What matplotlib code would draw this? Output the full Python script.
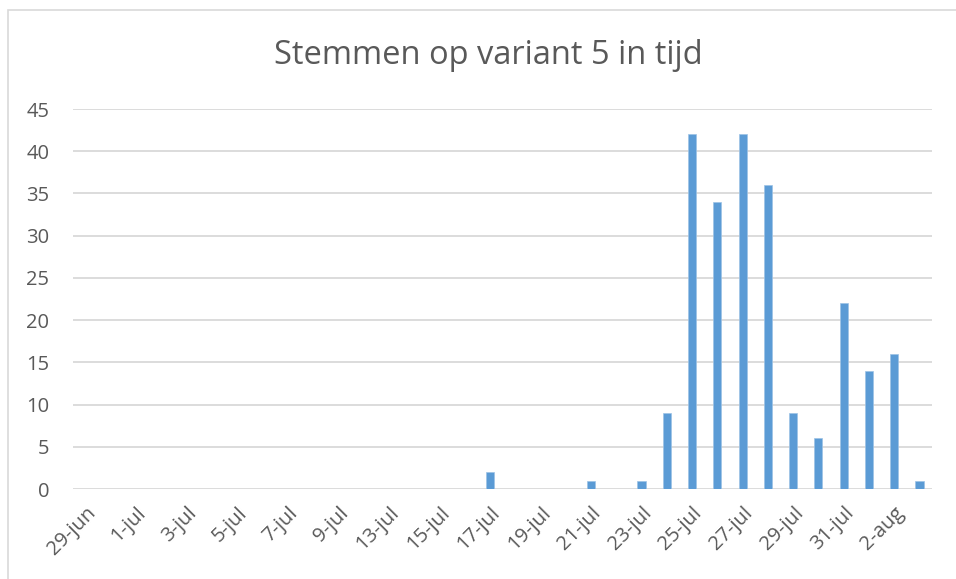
import numpy as np
import matplotlib.pyplot as plt
from matplotlib.patches import Rectangle

# data
dates = ['29-jun', '30-jun', '1-jul', '2-jul', '3-jul', '4-jul', '5-jul', '6-jul',
         '7-jul', '8-jul', '9-jul', '11-jul', '13-jul', '14-jul', '15-jul', '16-jul',
         '17-jul', '18-jul', '19-jul', '20-jul', '21-jul', '22-jul', '23-jul', '24-jul',
         '25-jul', '26-jul', '27-jul', '28-jul', '29-jul', '30-jul', '31-jul', '1-aug',
         '2-aug', '3-aug']
votes = [0, 0, 0, 0, 0, 0, 0, 0,
         0, 0, 0, 0, 0, 0, 0, 0,
         2, 0, 0, 0, 1, 0, 1, 9,
         42, 34, 42, 36, 9, 6, 22, 14,
         16, 1]

plt.rcParams['font.family'] = ['Open Sans', 'DejaVu Sans']

text_color = '#595959'
grid_color = '#D9D9D9'
bar_color = '#5B9BD5'

fig = plt.figure(figsize=(9.56, 5.79), dpi=100)
ax = fig.add_axes([0.0764, 0.1554, 0.975 - 0.0764, 0.8117 - 0.1554])

# rand van de grafiek
fig.patches.append(Rectangle((8 / 956, -0.1), 1.2, 1 - 10 / 579 + 0.1,
                             transform=fig.transFigure, fill=False,
                             edgecolor=grid_color, linewidth=1.2))

x = np.arange(len(dates))
ax.bar(x, votes, width=0.32, color=bar_color, edgecolor='#9DC3E6', linewidth=0.5, zorder=3)

ax.set_xlim(-0.5, len(dates) - 0.5)
ax.set_ylim(0, 45)
ax.set_yticks(np.arange(0, 46, 5))
ax.set_xticks(x[::2])
ax.set_xticklabels(dates[::2], rotation=45, ha='right', va='top', rotation_mode='anchor')

ax.tick_params(axis='both', length=0, labelsize=14.5, colors=text_color)
ax.tick_params(axis='y', pad=17)
ax.tick_params(axis='x', pad=10)

ax.grid(axis='y', color=grid_color, linewidth=1.3)
ax.set_axisbelow(True)
for s in ax.spines.values():
    s.set_visible(False)

fig.text(0.511, 1 - 55 / 579, 'Stemmen op variant 5 in tijd', ha='center', va='center',
         fontsize=23.5, color=text_color)

plt.savefig('out.png', dpi=100)
